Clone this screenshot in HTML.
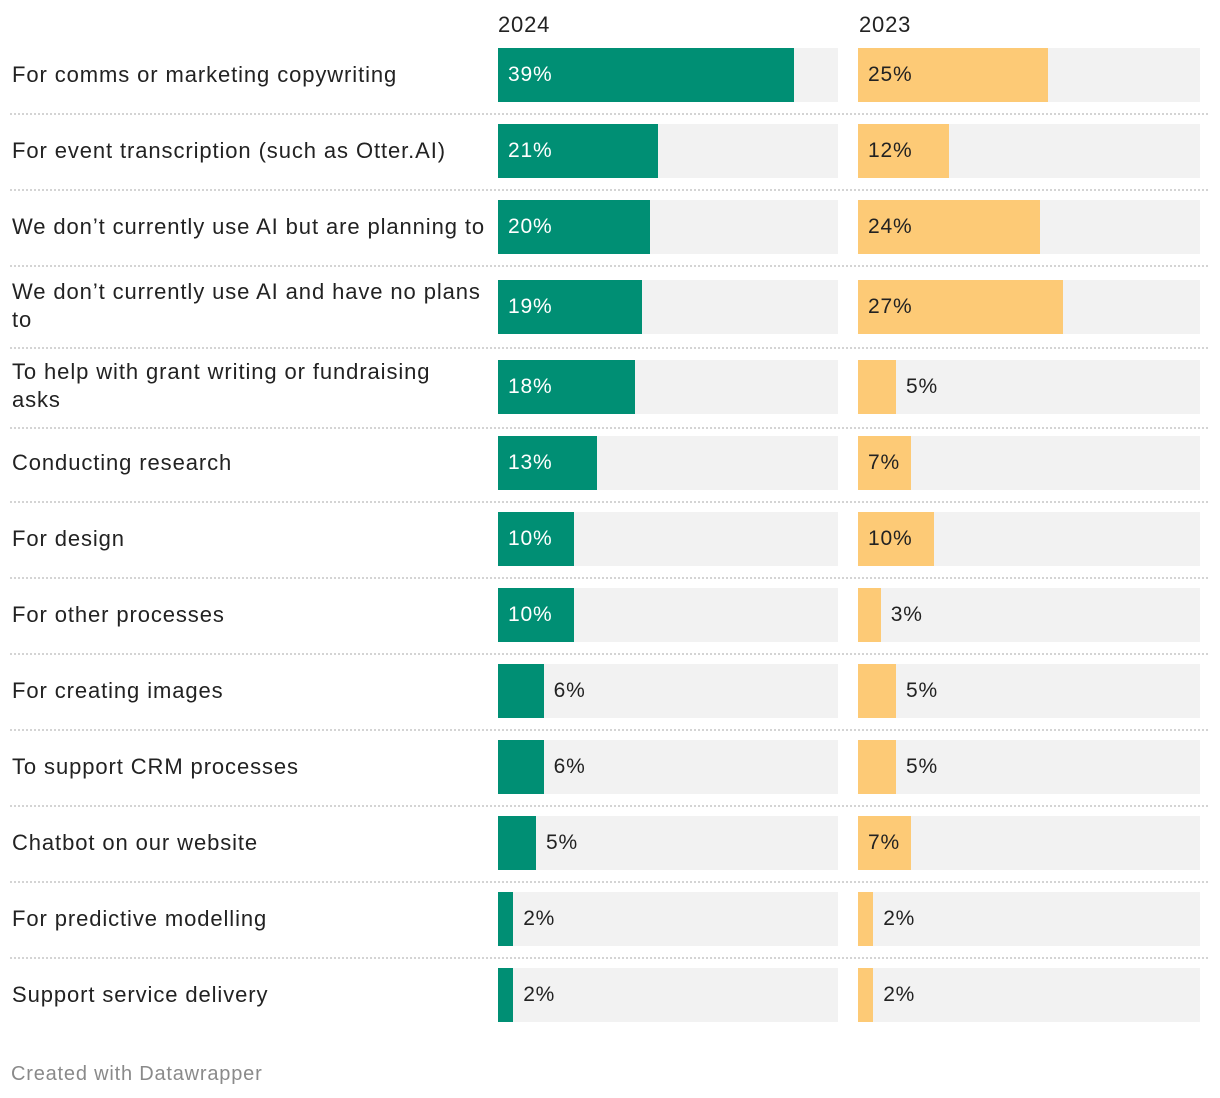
<!DOCTYPE html>
<html><head><meta charset="utf-8"><style>
body{margin:0;width:1220px;height:1098px;background:#fff;font-family:"Liberation Sans",sans-serif;position:relative;overflow:hidden}
#chart{position:absolute;left:0;top:0;width:1220px;height:1098px}
.abs{position:absolute}
.lbl{left:12px;width:480px;font-size:22px;letter-spacing:0.9px;color:#222;line-height:28px;white-space:pre-line}
.bg{background:#f2f2f2;height:54px}
.bar{height:54px}
.val{font-size:21px;letter-spacing:0.8px;line-height:54px;height:54px}
.sep{left:10px;width:1198px;border-top:2px dotted #d4d4d4;height:0}
</style></head><body>
<div id="chart">
<div class="abs" style="left:498px;top:12px;font-size:22px;letter-spacing:0.8px;color:#222">2024</div>
<div class="abs" style="left:859px;top:12px;font-size:22px;letter-spacing:0.8px;color:#222">2023</div>
<div class="abs" style="left:11px;top:1063px;font-size:20px;letter-spacing:0.8px;color:#8a8a8a">Created with Datawrapper</div>
</div>
<script>
const categories=["For comms or marketing copywriting","For event transcription (such as Otter.AI)","We don’t currently use AI but are planning to","We don’t currently use AI and have no plans\nto","To help with grant writing or fundraising\nasks","Conducting research","For design","For other processes","For creating images","To support CRM processes","Chatbot on our website","For predictive modelling","Support service delivery"];
const values2024=[39,21,20,19,18,13,10,10,6,6,5,2,2];
const values2023=[25,12,24,27,5,7,10,3,5,5,7,2,2];
const chart=document.getElementById('chart');
const pxPer=7.6;
const x24=498,x23=858,w24=340,w23=342;
function sx(v){return v*pxPer;}
const twoLine=[3,4];
let rowY=48;
function mk(cls,style,name){const d=document.createElement('div');d.className='abs '+cls;d.style.cssText=style;


chart.appendChild(d);return d;}
categories.forEach((c,i)=>{
  const tall=twoLine.includes(i);
  const l=mk('lbl','top:'+(tall?rowY-2:rowY+13)+'px','category-label');l.textContent=c;
  [[x24,w24,values2024[i],'#008f74','bar-2024'],[x23,w23,values2023[i],'#fdca76','bar-2023']].forEach(([x,w,v,col,nm],k)=>{
    mk('bg','left:'+x+'px;top:'+rowY+'px;width:'+w+'px','bar-background');
    const bw=sx(v);
    mk('bar','left:'+x+'px;top:'+rowY+'px;width:'+bw+'px;background:'+col,nm);
    const inside=v>=7;
    const t=mk('val','top:'+rowY+'px;left:'+(inside?x+10:x+bw+10)+'px;color:'+(inside&&k==0?'#fff':'#222'),'value-label');
    t.textContent=v+'%';
  });
  const gap=(i==2||i==3)?80:76;
  if(i<categories.length-1){mk('sep','top:'+(rowY+(tall?67:65))+'px','row-separator');}
  rowY+=gap;
});
</script>
</body></html>
